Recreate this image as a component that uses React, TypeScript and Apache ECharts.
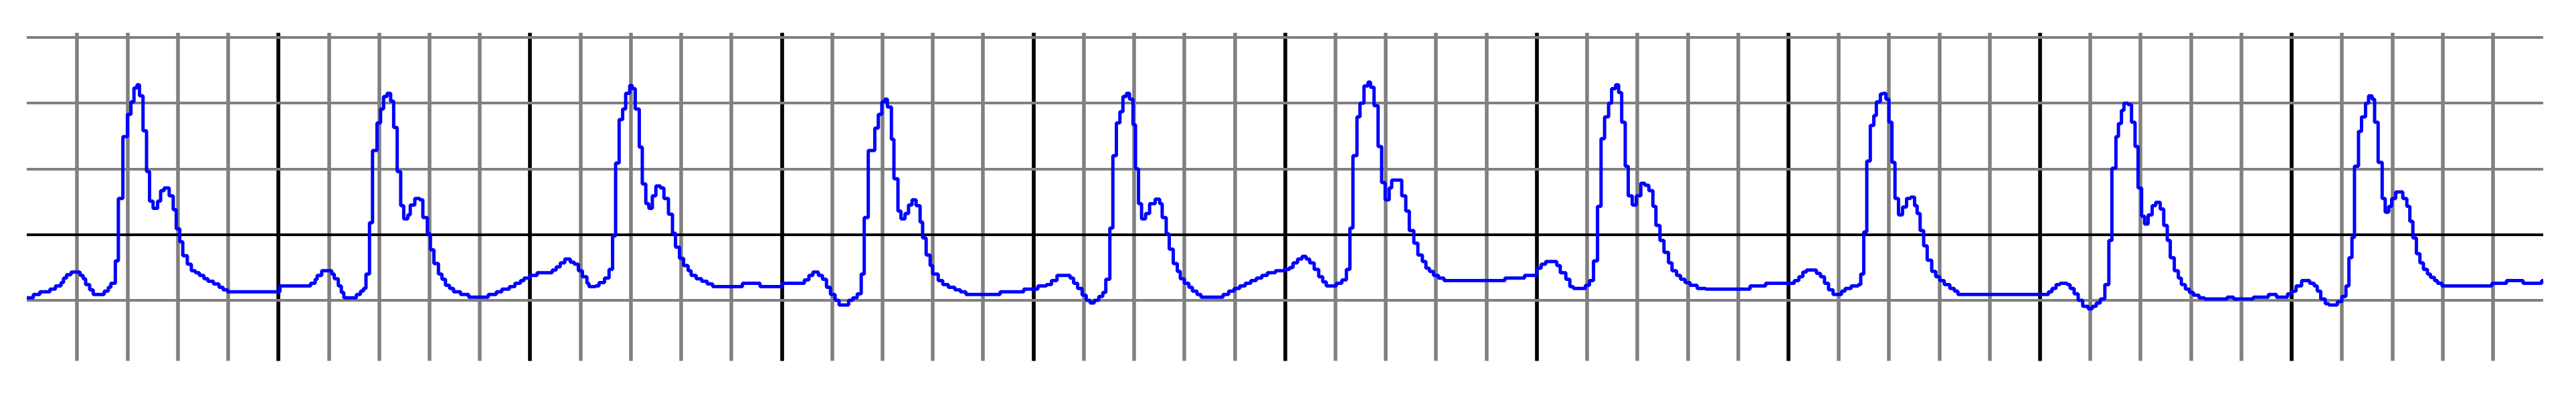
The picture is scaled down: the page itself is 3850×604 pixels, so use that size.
import { useEffect, useRef } from "react";
import * as echarts from "echarts";

// time axis in small grid cells (0..50), amplitude in large horizontal divisions
const traceX = [
  0.0, 0.13, 0.26, 0.46, 0.57, 0.68, 0.73, 0.79, 0.88, 1.06, 1.12, 1.17, 1.25, 1.32, 1.54, 1.62, 1.67, 1.76, 1.82, 1.91,
  2.0, 2.07, 2.13, 2.19, 2.24, 2.31, 2.38, 2.44, 2.51, 2.6, 2.66, 2.73, 2.83, 2.91, 2.97, 3.04, 3.1, 3.19, 3.27, 3.35,
  3.43, 3.52, 3.6, 3.71, 3.82, 3.9, 3.99, 5.03, 5.64, 5.73, 5.77, 5.86, 6.06, 6.11, 6.19, 6.25, 6.3, 6.55, 6.63, 6.69,
  6.74, 6.81, 6.87, 6.96, 7.03, 7.09, 7.16, 7.23, 7.29, 7.36, 7.43, 7.49, 7.57, 7.62, 7.71, 7.81, 7.87, 7.96, 8.02, 8.09,
  8.18, 8.25, 8.32, 8.4, 8.48, 8.62, 8.78, 9.17, 9.33, 9.44, 9.59, 9.7, 9.81, 9.88, 9.99, 10.14, 10.44, 10.52, 10.6, 10.69,
  10.8, 10.88, 10.96, 11.04, 11.13, 11.17, 11.3, 11.37, 11.48, 11.57, 11.64, 11.7, 11.77, 11.84, 11.9, 11.98, 12.03, 12.09, 12.17, 12.23,
  12.3, 12.36, 12.43, 12.5, 12.59, 12.66, 12.75, 12.83, 12.89, 12.97, 13.05, 13.14, 13.2, 13.3, 13.41, 13.52, 13.63, 14.22, 14.57, 15.01,
  15.45, 15.54, 15.62, 15.73, 15.81, 15.89, 15.97, 16.06, 16.14, 16.33, 16.41, 16.5, 16.58, 16.64, 16.72, 16.85, 16.92, 16.99, 17.05, 17.1,
  17.18, 17.23, 17.31, 17.37, 17.45, 17.52, 17.59, 17.67, 17.75, 17.8, 17.87, 17.95, 18.0, 18.11, 18.2, 18.31, 18.44, 18.55, 18.66, 19.34,
  19.81, 20.09, 20.26, 20.36, 20.47, 20.73, 20.8, 20.88, 20.97, 21.05, 21.13, 21.21, 21.3, 21.38, 21.44, 21.52, 21.58, 21.65, 21.72, 21.78,
  21.85, 21.91, 21.98, 22.03, 22.09, 22.15, 22.23, 22.31, 22.42, 22.51, 22.56, 22.64, 22.7, 22.78, 22.86, 22.92, 23.0, 23.09, 23.16, 23.25,
  23.33, 23.77, 23.88, 23.99, 24.1, 24.21, 24.32, 24.43, 24.54, 24.65, 24.81, 24.98, 25.09, 25.16, 25.25, 25.34, 25.42, 25.49, 25.58, 25.67,
  25.75, 25.82, 26.02, 26.13, 26.22, 26.29, 26.35, 26.43, 26.49, 26.57, 26.65, 26.7, 26.77, 26.85, 26.92, 26.99, 27.07, 27.12, 27.32, 27.4,
  27.47, 27.56, 27.64, 27.73, 27.8, 27.87, 27.95, 28.05, 28.16, 29.37, 29.76, 30.0, 30.09, 30.18, 30.4, 30.47, 30.58, 30.66, 30.73, 30.97,
  31.05, 31.13, 31.21, 31.28, 31.35, 31.43, 31.49, 31.57, 31.63, 31.69, 31.76, 31.82, 31.9, 31.98, 32.07, 32.15, 32.23, 32.31, 32.37, 32.45,
  32.53, 32.62, 32.69, 32.78, 32.86, 32.95, 33.05, 33.19, 33.36, 34.24, 34.55, 35.12, 35.21, 35.29, 35.36, 35.56, 35.64, 35.72, 35.8, 35.89,
  36.06, 36.13, 36.25, 36.39, 36.44, 36.5, 36.56, 36.63, 36.7, 36.75, 36.83, 36.88, 36.94, 37.0, 37.06, 37.12, 37.19, 37.27, 37.35, 37.43,
  37.51, 37.56, 37.62, 37.69, 37.76, 37.85, 37.93, 38.01, 38.1, 38.21, 38.3, 38.37, 40.17, 40.24, 40.32, 40.4, 40.54, 40.6, 40.68, 40.76,
  40.85, 40.96, 41.04, 41.12, 41.2, 41.29, 41.37, 41.43, 41.51, 41.56, 41.62, 41.67, 41.75, 41.82, 41.89, 41.95, 42.02, 42.08, 42.15, 42.23,
  42.3, 42.39, 42.46, 42.53, 42.59, 42.67, 42.75, 42.81, 42.89, 42.97, 43.05, 43.16, 43.27, 43.72, 43.85, 44.24, 44.54, 44.7, 44.92, 45.01,
  45.09, 45.2, 45.36, 45.45, 45.51, 45.58, 45.67, 45.74, 45.91, 46.0, 46.08, 46.14, 46.2, 46.25, 46.33, 46.39, 46.47, 46.53, 46.6, 46.65,
  46.72, 46.8, 46.86, 46.93, 46.99, 47.07, 47.21, 47.29, 47.35, 47.41, 47.48, 47.55, 47.62, 47.7, 47.76, 47.84, 47.9, 47.99, 48.98, 49.27,
  49.6, 49.97, 50.0,
];

const traceY = [
  -0.96, -0.91, -0.87, -0.83, -0.78, -0.73, -0.66, -0.61, -0.57, -0.62, -0.67, -0.76, -0.84, -0.91, -0.86, -0.8, -0.74, -0.4, 0.55, 1.49,
  1.83, 2.02, 2.23, 2.28, 2.11, 1.58, 0.96, 0.51, 0.4, 0.51, 0.67, 0.71, 0.59, 0.38, 0.09, -0.11, -0.32, -0.45, -0.55, -0.58,
  -0.62, -0.67, -0.71, -0.75, -0.8, -0.84, -0.87, -0.78, -0.74, -0.68, -0.62, -0.55, -0.6, -0.67, -0.78, -0.88, -0.96, -0.91, -0.86, -0.82,
  -0.6, 0.18, 1.28, 1.7, 1.91, 2.1, 2.15, 2.03, 1.63, 0.96, 0.44, 0.24, 0.3, 0.45, 0.55, 0.53, 0.26, 0.01, -0.23, -0.44,
  -0.6, -0.68, -0.77, -0.82, -0.87, -0.91, -0.95, -0.91, -0.87, -0.83, -0.79, -0.74, -0.7, -0.66, -0.62, -0.58, -0.54, -0.49, -0.43, -0.37,
  -0.42, -0.45, -0.55, -0.64, -0.74, -0.79, -0.78, -0.73, -0.66, -0.53, -0.02, 1.09, 1.75, 1.91, 2.15, 2.27, 2.22, 1.91, 1.33, 0.77,
  0.47, 0.4, 0.59, 0.74, 0.71, 0.55, 0.31, 0.02, -0.19, -0.36, -0.47, -0.55, -0.62, -0.67, -0.71, -0.75, -0.79, -0.74, -0.79, -0.74,
  -0.69, -0.62, -0.57, -0.62, -0.68, -0.8, -0.91, -1.0, -1.07, -1.0, -0.96, -0.9, -0.6, 0.26, 1.28, 1.62, 1.83, 2.02, 2.06, 1.94,
  1.45, 0.85, 0.36, 0.24, 0.32, 0.45, 0.53, 0.44, 0.19, -0.05, -0.31, -0.47, -0.6, -0.7, -0.76, -0.8, -0.84, -0.87, -0.91, -0.87,
  -0.83, -0.78, -0.76, -0.7, -0.62, -0.66, -0.74, -0.82, -0.92, -1.0, -1.04, -1.0, -0.94, -0.88, -0.68, 0.1, 1.2, 1.7, 1.87, 2.1,
  2.15, 2.06, 1.67, 1.0, 0.47, 0.24, 0.32, 0.47, 0.54, 0.47, 0.26, 0.01, -0.22, -0.44, -0.56, -0.67, -0.74, -0.8, -0.86, -0.91,
  -0.95, -0.91, -0.86, -0.82, -0.78, -0.74, -0.7, -0.66, -0.62, -0.58, -0.55, -0.53, -0.5, -0.43, -0.37, -0.33, -0.37, -0.43, -0.53, -0.64,
  -0.72, -0.78, -0.74, -0.69, -0.53, 0.1, 1.2, 1.79, 2.0, 2.26, 2.32, 2.24, 1.96, 1.34, 0.79, 0.53, 0.71, 0.83, 0.59, 0.36,
  0.06, -0.13, -0.31, -0.41, -0.51, -0.56, -0.62, -0.66, -0.7, -0.66, -0.62, -0.51, -0.45, -0.41, -0.47, -0.58, -0.68, -0.79, -0.82, -0.77,
  -0.7, -0.4, 0.43, 1.46, 1.79, 2.0, 2.22, 2.28, 2.16, 1.71, 1.04, 0.59, 0.45, 0.59, 0.78, 0.75, 0.67, 0.43, 0.14, -0.09,
  -0.27, -0.43, -0.55, -0.62, -0.68, -0.73, -0.77, -0.82, -0.83, -0.78, -0.74, -0.7, -0.64, -0.57, -0.54, -0.59, -0.64, -0.74, -0.84, -0.91,
  -0.86, -0.82, -0.78, -0.76, -0.6, 0.04, 1.12, 1.66, 1.81, 2.02, 2.14, 2.15, 2.06, 1.71, 1.1, 0.55, 0.3, 0.42, 0.55, 0.57,
  0.44, 0.32, 0.06, -0.17, -0.39, -0.56, -0.64, -0.7, -0.76, -0.82, -0.86, -0.91, -0.87, -0.82, -0.76, -0.74, -0.76, -0.82, -0.9, -1.0,
  -1.09, -1.13, -1.09, -1.04, -0.98, -0.76, -0.09, 1.01, 1.49, 1.69, 1.89, 2.0, 1.98, 1.71, 1.34, 0.71, 0.28, 0.16, 0.3, 0.44,
  0.49, 0.39, 0.14, -0.09, -0.35, -0.55, -0.66, -0.76, -0.83, -0.88, -0.92, -0.96, -0.98, -0.95, -0.98, -0.95, -0.91, -0.95, -0.9, -0.86,
  -0.78, -0.7, -0.74, -0.78, -0.86, -0.98, -1.05, -1.07, -1.02, -0.94, -0.78, -0.35, -0.04, 1.04, 1.57, 1.79, 2.0, 2.11, 2.06, 1.71,
  1.1, 0.55, 0.34, 0.43, 0.55, 0.65, 0.55, 0.43, 0.2, -0.05, -0.29, -0.43, -0.53, -0.6, -0.65, -0.7, -0.74, -0.78, -0.74, -0.7,
  -0.74, -0.7, -0.7,
];

const horizontalLevels = [-1, 0, 1, 2, 3];
const majorLevel = 0;
const xRange = [0, 50];
const yRange = [-1.92, 3.07];
const minorStep = 1;
const majorStep = 5;

const GREY = "#808080";
const BLACK = "#000000";
const BLUE = "#0000ff";

export default function App() {
  const ref = useRef<HTMLDivElement>(null);

  useEffect(() => {
    if (!ref.current) return;
    const chart = echarts.init(ref.current, null, { renderer: "svg" });
    const data = traceX.map((x, i) => [x, traceY[i]]);
    const hidden = {
      axisLine: { show: false },
      axisTick: { show: false },
      axisLabel: { show: false },
    };
    chart.setOption({
      animation: false,
      backgroundColor: "#ffffff",
      grid: { left: 40, right: 49, top: 49, bottom: 64.5, containLabel: false },
      xAxis: [
        {
          type: "value",
          min: xRange[0],
          max: xRange[1],
          interval: minorStep,
          z: 0,
          ...hidden,
          splitLine: {
            show: true,
            showMinLine: false,
            showMaxLine: false,
            lineStyle: { color: GREY, width: 5.5 },
          },
        },
        {
          type: "value",
          min: xRange[0],
          max: xRange[1],
          interval: majorStep,
          z: 1,
          ...hidden,
          splitLine: {
            show: true,
            showMinLine: false,
            showMaxLine: false,
            lineStyle: { color: BLACK, width: 5.5 },
          },
        },
      ],
      yAxis: { type: "value", min: yRange[0], max: yRange[1], show: false },
      series: [
        {
          type: "line",
          data,
          showSymbol: false,
          symbol: "none",
          silent: true,
          z: 2,
          lineStyle: { opacity: 0 },
          markLine: {
            silent: true,
            symbol: ["none", "none"],
            label: { show: false },
            animation: false,
            lineStyle: { type: "solid", width: 4 },
            data: horizontalLevels.map((v) => ({
              yAxis: v,
              lineStyle: { type: "solid", width: 4, color: v === majorLevel ? BLACK : GREY },
            })),
          },
        },
        {
          type: "line",
          data,
          step: "end",
          showSymbol: false,
          symbol: "none",
          silent: true,
          z: 5,
          lineStyle: { color: BLUE, width: 5 },
        },
      ],
    });
    return () => chart.dispose();
  }, []);

  return (
    <div
      ref={ref}
      style={{ position: "fixed", left: 0, top: 0, width: 3850, height: 604, background: "#fff" }}
    />
  );
}
